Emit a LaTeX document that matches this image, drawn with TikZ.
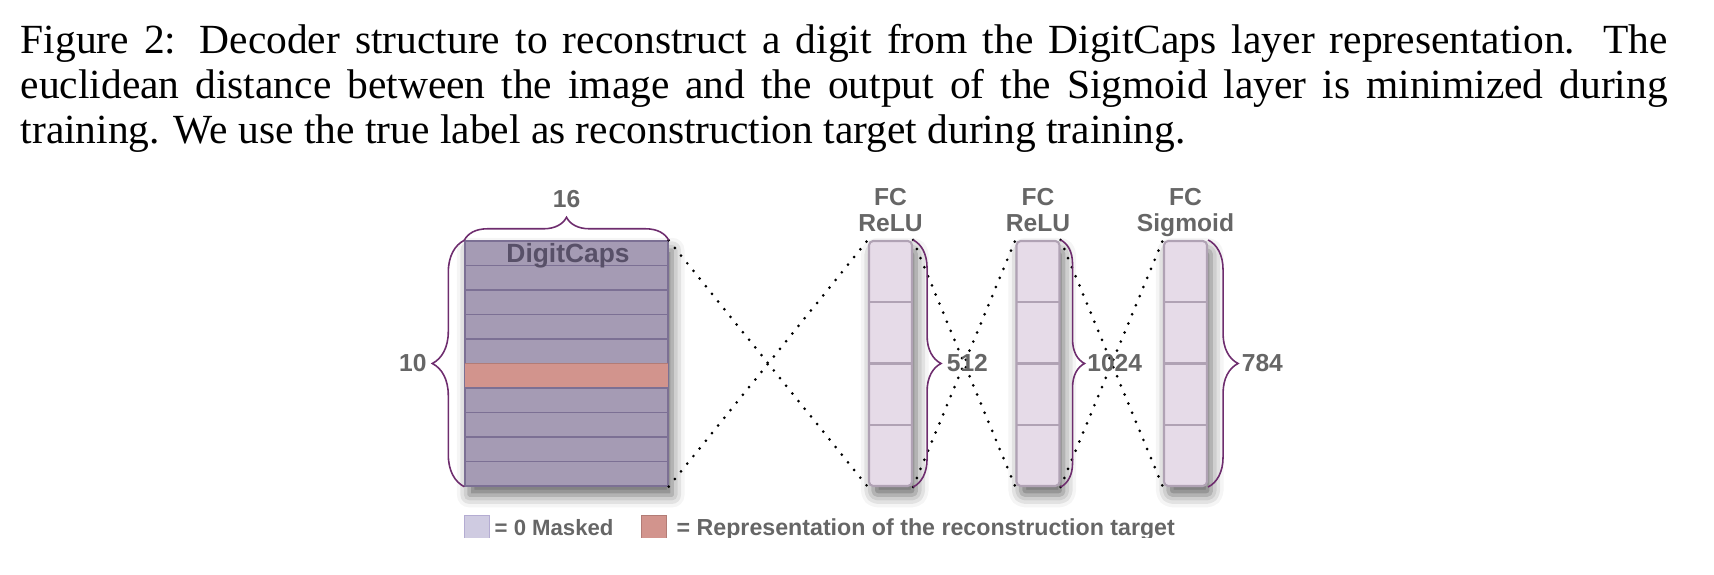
\documentclass[tikz,border=0pt]{standalone}
\usepackage{fontspec}
\setmainfont{Liberation Serif}
\setsansfont{Liberation Sans}
\usetikzlibrary{decorations.pathreplacing,shadows.blur}

\definecolor{capsfill}{RGB}{165,155,180}
\definecolor{capsline}{RGB}{124,112,148}
\definecolor{targetfill}{RGB}{210,148,141}
\definecolor{targetline}{RGB}{178,124,118}
\definecolor{fcfill}{RGB}{230,219,232}
\definecolor{fcline}{RGB}{176,162,180}
\definecolor{bracecol}{RGB}{110,45,110}
\definecolor{lblgray}{RGB}{102,102,102}
\definecolor{capstext}{RGB}{88,80,104}
\definecolor{maskfill}{RGB}{207,203,225}
\definecolor{maskline}{RGB}{180,172,210}

\tikzset{
  lbl/.style={font=\sffamily\bfseries\fontsize{7}{7.4}\selectfont, text=lblgray, inner sep=0pt},
  mybrace/.style={decorate, decoration={brace, amplitude=#1}, draw=bracecol, line width=0.45pt},
  conn/.style={line width=0.85pt, dash pattern=on 0pt off 2.8pt, line cap=round},
  layer/.style={minimum height=2.45cm, inner sep=0pt,
    blur shadow={shadow xshift=1.2pt, shadow yshift=-2.6pt, shadow blur radius=3.5pt, shadow opacity=60}},
  fclayer/.style={layer, fill=fcfill, draw=fcline, line width=0.6pt, rounded corners=1.2pt, minimum width=0.43cm},
  keybox/.style={minimum width=0.25cm, minimum height=0.30cm, inner sep=0pt, anchor=north west, line width=0.4pt},
  keytext/.style={font=\sffamily\bfseries\fontsize{#1}{6.6}\selectfont, text=lblgray, inner sep=0pt, anchor=base west}
}

\begin{document}
\begin{tikzpicture}
\useasboundingbox (0, 0) rectangle (17.14, 5.75);

\node[anchor=north west, text width=16.47cm, inner sep=0pt, align=justify,
  font=\fontsize{11.8}{12.8}\selectfont] (caption) at (0.20, 5.51)
  {Figure 2: Decoder structure to reconstruct a digit from the DigitCaps layer representation. The\linebreak
  euclidean distance between the image and the output of the Sigmoid layer is minimized during\linebreak
  training. We use the true label as reconstruction target during training.};

% DigitCaps
\node[layer, fill=capsfill, draw=capsline, line width=0.4pt, minimum width=2.03cm] (caps) at (5.665, 2.115) {};
\fill[targetfill] (4.65, 1.870) rectangle (6.68, 2.115);
\foreach \k in {1, ..., 9}
  \draw[capsline, line width=0.4pt] (4.65, {3.34 - \k*0.245}) -- (6.68, {3.34 - \k*0.245});
\draw[targetline, line width=0.5pt] (4.65, 2.115) -- (6.68, 2.115);
\draw[capsline, line width=0.4pt] (caps.north west) rectangle (caps.south east);
\node[font=\sffamily\bfseries\fontsize{7.5}{7.5}\selectfont, text=capstext, anchor=base, inner sep=0pt] (capsname) at (5.68, 3.12) {DigitCaps};

% FC layers
\node[fclayer] (fc1) at (8.905, 2.115) {};
\node[fclayer] (fc2) at (10.380, 2.115) {};
\node[fclayer] (fc3) at (11.855, 2.115) {};
\foreach \x in {8.905, 10.380, 11.855}
  \foreach \k in {1, 2, 3}
    \draw[fcline, line width=0.6pt] (\x - 0.215, {3.34 - \k*0.6125}) -- (\x + 0.215, {3.34 - \k*0.6125});

\node[lbl, align=center, anchor=south] (fc1name) at (8.905, 3.43) {FC\\ReLU};
\node[lbl, align=center, anchor=south] (fc2name) at (10.380, 3.43) {FC\\ReLU};
\node[lbl, align=center, anchor=south] (fc3name) at (11.855, 3.375) {FC\\Sigmoid};

% connections
\draw[conn] (caps.north east) -- (fc1.south west);
\draw[conn] (caps.south east) -- (fc1.north west);
\draw[conn] (fc1.north east) -- (fc2.south west);
\draw[conn] (fc1.south east) -- (fc2.north west);
\draw[conn] (fc2.north east) -- (fc3.south west);
\draw[conn] (fc2.south east) -- (fc3.north west);

% sizes
\draw[mybrace=0.23cm] (caps.north west) -- (caps.north east) node[lbl, midway, above=0.32cm] (capswidth) {16};
\draw[mybrace=0.32cm] (caps.south west) -- (caps.north west) node[lbl, midway, left=0.37cm] (capsrows) {10};
\draw[mybrace=0.28cm] (fc1.north east) -- (fc1.south east) node[lbl, midway, right=0.33cm] (fc1size) {512};
\draw[mybrace=0.24cm] (fc2.north east) -- (fc2.south east) node[lbl, midway, right=0.26cm] (fc2size) {1024};
\draw[mybrace=0.30cm] (fc3.north east) -- (fc3.south east) node[lbl, midway, right=0.33cm] (fc3size) {784};

% legend, cut off at the bottom
\begin{scope}
\clip (0, 0.37) rectangle (17.14, 1.0);
\node[keybox, fill=maskfill, draw=maskline] (maskkey) at (4.64, 0.60) {};
\node[keytext=6.3] (masktext) at (4.94, 0.39) {= 0 Masked};
\node[keybox, fill=targetfill, draw=targetline] (targetkey) at (6.41, 0.60) {};
\node[keytext=6.6] (targettext) at (6.76, 0.39) {= Representation of the reconstruction target};
\end{scope}
\end{tikzpicture}
\end{document}
